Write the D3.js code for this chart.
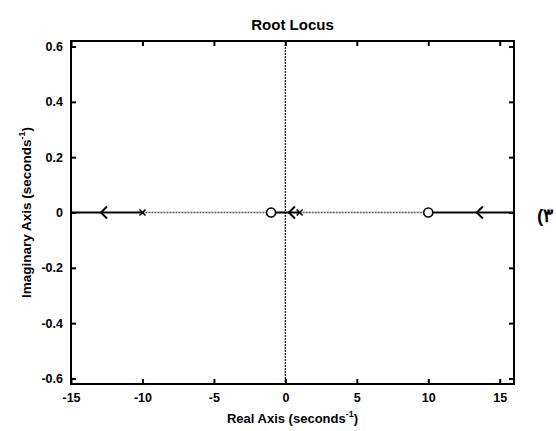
<!DOCTYPE html>
<html>
<head>
<meta charset="utf-8">
<script src="https://cdn.jsdelivr.net/npm/d3@7"></script>
<style>
  html, body { margin: 0; padding: 0; background: #fff; }
  svg { display: block; }
  text { font-family: "Liberation Sans", Arial, sans-serif; font-weight: bold; fill: #000; }
  .note { direction: ltr; unicode-bidi: bidi-override; }
</style>
</head>
<body>
<svg id="chart" width="556" height="431"></svg>
<script>
// Axis ticks
const xTicks = [-15, -10, -5, 0, 5, 10, 15];
const yTicks = [-0.6, -0.4, -0.2, 0, 0.2, 0.4, 0.6];
const xDomain = [-15, 16];
const yDomain = [-0.62, 0.62];

// Open-loop poles (x) and zeros (o) on the real axis
const poles = [-10, 1];
const zeros = [-1, 10];

// Real-axis locus branches: solid and dotted segments [start, end]
const solidBranches = [[-15, -10], [-1, 1], [10, 16]];
const dottedBranches = [[-10, -1], [1, 10]];

// Direction arrows placed along the branches
const arrows = [-12.9, 0.25, 13.4];

const margin = { left: 71, right: 42, top: 41, bottom: 47 };
const W = 556, H = 431;
const svg = d3.select("#chart");

const x = d3.scaleLinear().domain(xDomain).range([margin.left, W - margin.right]);
const y = d3.scaleLinear().domain(yDomain).range([H - margin.bottom, margin.top]);

const x0 = x.range()[0], x1 = x.range()[1];
const y0 = y.range()[1], y1 = y.range()[0];

// Plain hyphen for negative tick labels
const fmtX = d => String(d);
const fmtY = d => d3.format(".1~f")(d).replace("−", "-");

// Imaginary axis (dotted)
svg.append("line")
  .attr("x1", x(0)).attr("x2", x(0))
  .attr("y1", y0).attr("y2", y1)
  .attr("stroke", "#222").attr("stroke-width", 1.3)
  .attr("stroke-dasharray", "2,1");

// Dotted locus parts
svg.selectAll("line.dot").data(dottedBranches).enter().append("line")
  .attr("class", "dot")
  .attr("x1", d => x(d[0])).attr("x2", d => x(d[1]))
  .attr("y1", y(0)).attr("y2", y(0))
  .attr("stroke", "#555").attr("stroke-width", 1.4)
  .attr("stroke-dasharray", "2,1");

// Solid locus parts
svg.selectAll("line.solid").data(solidBranches).enter().append("line")
  .attr("class", "solid")
  .attr("x1", d => x(d[0])).attr("x2", d => x(d[1]))
  .attr("y1", y(0)).attr("y2", y(0))
  .attr("stroke", "#000").attr("stroke-width", 2);

// Arrows "<"
svg.selectAll("path.arrow").data(arrows).enter().append("path")
  .attr("class", "arrow")
  .attr("d", d => `M${x(d) + 6},${y(0) - 6} L${x(d)},${y(0)} L${x(d) + 6},${y(0) + 6}`)
  .attr("fill", "none").attr("stroke", "#000").attr("stroke-width", 2);

// Poles
svg.selectAll("path.pole").data(poles).enter().append("path")
  .attr("class", "pole")
  .attr("d", d => {
    const cx = x(d), cy = y(0), s = 3;
    return `M${cx - s},${cy - s} L${cx + s},${cy + s} M${cx - s},${cy + s} L${cx + s},${cy - s}`;
  })
  .attr("stroke", "#000").attr("stroke-width", 1.6);

// Zeros
svg.selectAll("circle.zero").data(zeros).enter().append("circle")
  .attr("class", "zero")
  .attr("cx", d => x(d)).attr("cy", y(0)).attr("r", 4.5)
  .attr("fill", "#fff").attr("stroke", "#000").attr("stroke-width", 1.6);

// Frame
svg.append("rect")
  .attr("x", x0).attr("y", y0)
  .attr("width", x1 - x0).attr("height", y1 - y0)
  .attr("fill", "none").attr("stroke", "#000").attr("stroke-width", 2);

// Axes with inward ticks on all four sides
const tickLen = 5;
const styleText = g => g.selectAll("text")
  .attr("font-size", 12.5)
  .attr("font-family", "Liberation Sans, Arial, sans-serif")
  .attr("font-weight", "bold");
svg.append("g").attr("transform", `translate(0,${y1})`)
  .call(d3.axisBottom(x).tickValues(xTicks).tickSize(-tickLen).tickPadding(9).tickFormat(fmtX))
  .call(g => g.select(".domain").remove())
  .call(g => g.selectAll("line").attr("stroke-width", 2))
  .call(styleText);
svg.append("g").attr("transform", `translate(0,${y0})`)
  .call(d3.axisTop(x).tickValues(xTicks).tickSize(-tickLen).tickFormat(""))
  .call(g => g.select(".domain").remove())
  .call(g => g.selectAll("line").attr("stroke-width", 2));
svg.append("g").attr("transform", `translate(${x0},0)`)
  .call(d3.axisLeft(y).tickValues(yTicks).tickSize(-tickLen).tickPadding(8).tickFormat(fmtY))
  .call(g => g.select(".domain").remove())
  .call(g => g.selectAll("line").attr("stroke-width", 2))
  .call(styleText);
svg.append("g").attr("transform", `translate(${x1},0)`)
  .call(d3.axisRight(y).tickValues(yTicks).tickSize(-tickLen).tickFormat(""))
  .call(g => g.select(".domain").remove())
  .call(g => g.selectAll("line").attr("stroke-width", 2));

// Title
svg.append("text")
  .attr("x", (x0 + x1) / 2).attr("y", 30)
  .attr("text-anchor", "middle").attr("font-size", 15)
  .text("Root Locus");

// X label
const xl = svg.append("text")
  .attr("x", (x0 + x1) / 2).attr("y", 423)
  .attr("text-anchor", "middle").attr("font-size", 13);
xl.append("tspan").text("Real Axis (seconds");
xl.append("tspan").attr("dy", -6).attr("font-size", 9).text("-1");
xl.append("tspan").attr("dy", 6).text(")");

// Y label
const yl = svg.append("text")
  .attr("transform", `translate(31,${(y0 + y1) / 2}) rotate(-90)`)
  .attr("text-anchor", "middle").attr("font-size", 13.5);
yl.append("tspan").text("Imaginary Axis (seconds");
yl.append("tspan").attr("dy", -6).attr("font-size", 9).text("-1");
yl.append("tspan").attr("dy", 6).text(")");

// Side annotation
svg.append("text")
  .attr("class", "note")
  .attr("x", 537).attr("y", 222)
  .attr("font-family", "DejaVu Sans, sans-serif").attr("font-weight", "normal")
  .attr("font-size", 19)
  .text("(٣");
</script>
</body>
</html>
